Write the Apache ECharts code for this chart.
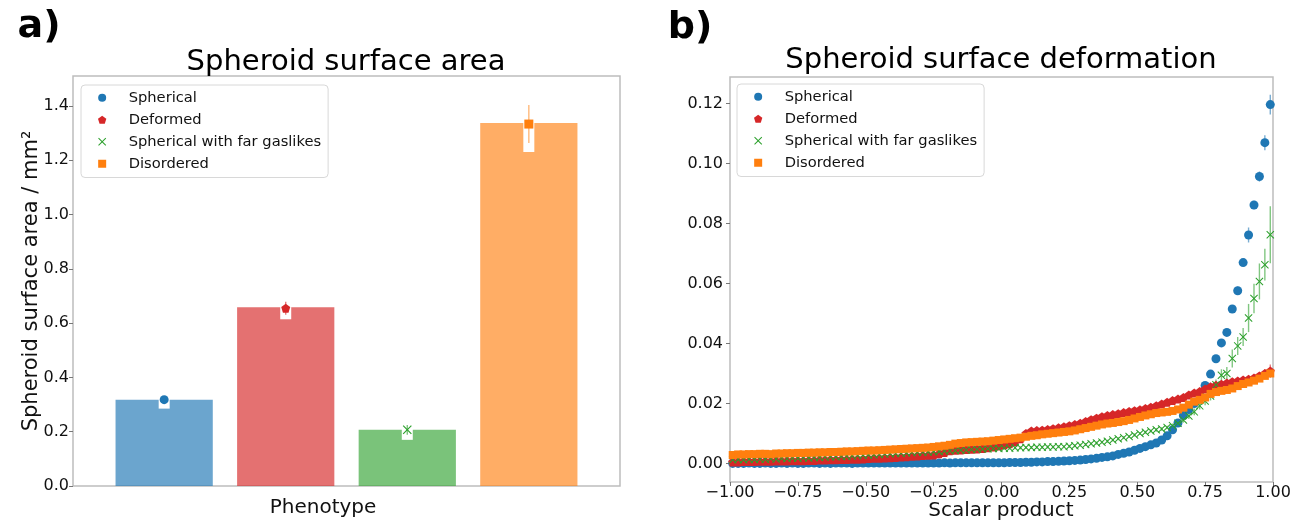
<!DOCTYPE html>
<html>
<head>
<meta charset="utf-8">
<script src="https://cdn.jsdelivr.net/npm/echarts@6/dist/echarts.min.js"></script>
<style>html,body{margin:0;padding:0;background:#fff}#c{width:1302px;height:521px}</style>
</head>
<body>
<div id="c"></div>
<script>
// ---------------- DATA ----------------
const categories = ['Spherical', 'Deformed', 'Spherical with far gaslikes', 'Disordered'];
// panel a
const barValues = [0.318, 0.658, 0.207, 1.337];
const barCI = [0.033, 0.044, 0.037, 0.107];
const markerValues = [0.318, 0.655, 0.207, 1.333];
const markerErr = [0.004, 0.024, 0.018, 0.070];
const leftYTicks = [0, 0.2, 0.4, 0.6, 0.8, 1.0, 1.2, 1.4];
// panel b
const xCenters = [
 -0.99,-0.97,-0.95,-0.93,-0.91,-0.89,-0.87,-0.85,-0.83,-0.81,-0.79,-0.77,-0.75,-0.73,-0.71,-0.69,-0.67,-0.65,-0.63,-0.61,-0.59,-0.57,-0.55,-0.53,-0.51,
 -0.49,-0.47,-0.45,-0.43,-0.41,-0.39,-0.37,-0.35,-0.33,-0.31,-0.29,-0.27,-0.25,-0.23,-0.21,-0.19,-0.17,-0.15,-0.13,-0.11,-0.09,-0.07,-0.05,-0.03,-0.01,
 0.01,0.03,0.05,0.07,0.09,0.11,0.13,0.15,0.17,0.19,0.21,0.23,0.25,0.27,0.29,0.31,0.33,0.35,0.37,0.39,0.41,0.43,0.45,0.47,0.49,
 0.51,0.53,0.55,0.57,0.59,0.61,0.63,0.65,0.67,0.69,0.71,0.73,0.75,0.77,0.79,0.81,0.83,0.85,0.87,0.89,0.91,0.93,0.95,0.97,0.99];
const sphericalVals = [
 0.0000,0.0000,0.0000,0.0001,0.0000,0.0000,0.0001,0.0000,0.0000,0.0001,0.0000,0.0001,0.0000,0.0000,0.0001,0.0001,0.0000,0.0001,0.0000,0.0001,0.0001,0.0001,0.0000,0.0001,0.0001,
 0.0001,0.0001,0.0001,0.0001,0.0001,0.0001,0.0001,0.0001,0.0001,0.0001,0.0001,0.0001,0.0001,0.0001,0.0002,0.0001,0.0002,0.0002,0.0002,0.0002,0.0002,0.0002,0.0002,0.0002,0.0002,
 0.0002,0.0003,0.0003,0.0003,0.0004,0.0004,0.0005,0.0005,0.0006,0.0006,0.0007,0.0008,0.0009,0.0010,0.0011,0.0013,0.0015,0.0017,0.0020,0.0022,0.0025,0.0030,0.0034,0.0038,0.0044,
 0.0050,0.0056,0.0062,0.0068,0.0078,0.0092,0.0112,0.0135,0.0160,0.0180,0.0200,0.0232,0.0260,0.0298,0.0349,0.0402,0.0437,0.0515,0.0576,0.0670,0.0762,0.0862,0.0957,0.1070,0.1197];
const sphericalErr = [
 0.0002,0.0002,0.0002,0.0002,0.0002,0.0002,0.0002,0.0002,0.0002,0.0002,0.0002,0.0002,0.0002,0.0002,0.0002,0.0002,0.0002,0.0002,0.0002,0.0002,0.0002,0.0002,0.0002,0.0002,0.0002,
 0.0002,0.0002,0.0002,0.0002,0.0002,0.0002,0.0002,0.0002,0.0002,0.0002,0.0002,0.0002,0.0002,0.0002,0.0002,0.0002,0.0002,0.0002,0.0002,0.0002,0.0002,0.0002,0.0002,0.0002,0.0002,
 0.0002,0.0002,0.0002,0.0002,0.0002,0.0002,0.0002,0.0002,0.0002,0.0002,0.0002,0.0002,0.0002,0.0002,0.0002,0.0002,0.0002,0.0002,0.0002,0.0002,0.0002,0.0002,0.0002,0.0002,0.0002,
 0.0002,0.0002,0.0002,0.0002,0.0002,0.0003,0.0004,0.0004,0.0005,0.0005,0.0006,0.0007,0.0008,0.0008,0.0009,0.0010,0.0010,0.0010,0.0014,0.0010,0.0025,0.0014,0.0017,0.0025,0.0033];
const deformedVals = [
 0.0005,0.0005,0.0006,0.0006,0.0006,0.0007,0.0007,0.0007,0.0008,0.0008,0.0008,0.0009,0.0009,0.0009,0.0010,0.0010,0.0011,0.0011,0.0012,0.0012,0.0013,0.0013,0.0014,0.0014,0.0015,
 0.0016,0.0017,0.0017,0.0018,0.0019,0.0020,0.0021,0.0022,0.0024,0.0025,0.0026,0.0027,0.0028,0.0032,0.0036,0.0042,0.0044,0.0045,0.0046,0.0047,0.0048,0.0050,0.0052,0.0055,0.0058,
 0.0062,0.0066,0.0072,0.0082,0.0100,0.0108,0.0110,0.0111,0.0113,0.0116,0.0119,0.0122,0.0126,0.0130,0.0134,0.0140,0.0146,0.0151,0.0156,0.0160,0.0163,0.0166,0.0170,0.0173,0.0176,
 0.0179,0.0183,0.0187,0.0192,0.0198,0.0204,0.0210,0.0215,0.0220,0.0228,0.0235,0.0240,0.0248,0.0256,0.0261,0.0264,0.0268,0.0272,0.0275,0.0278,0.0281,0.0285,0.0292,0.0300,0.0308];
const deformedErr = [
 0.0003,0.0003,0.0003,0.0003,0.0003,0.0003,0.0003,0.0003,0.0003,0.0003,0.0003,0.0003,0.0003,0.0003,0.0003,0.0003,0.0003,0.0003,0.0003,0.0003,0.0003,0.0003,0.0003,0.0003,0.0003,
 0.0003,0.0003,0.0003,0.0003,0.0003,0.0003,0.0003,0.0003,0.0003,0.0003,0.0003,0.0003,0.0003,0.0004,0.0004,0.0004,0.0004,0.0004,0.0004,0.0004,0.0004,0.0004,0.0004,0.0004,0.0004,
 0.0004,0.0004,0.0004,0.0004,0.0005,0.0005,0.0005,0.0005,0.0005,0.0005,0.0005,0.0005,0.0005,0.0005,0.0005,0.0005,0.0005,0.0005,0.0005,0.0005,0.0005,0.0005,0.0005,0.0005,0.0005,
 0.0005,0.0005,0.0005,0.0005,0.0005,0.0005,0.0006,0.0006,0.0006,0.0006,0.0006,0.0007,0.0007,0.0007,0.0007,0.0008,0.0008,0.0008,0.0009,0.0009,0.0010,0.0010,0.0012,0.0014,0.0022];
const gasVals = [
 0.0012,0.0013,0.0012,0.0014,0.0013,0.0015,0.0014,0.0016,0.0015,0.0017,0.0016,0.0018,0.0017,0.0019,0.0018,0.0020,0.0020,0.0021,0.0022,0.0022,0.0023,0.0024,0.0025,0.0026,0.0027,
 0.0028,0.0029,0.0030,0.0031,0.0032,0.0033,0.0034,0.0035,0.0036,0.0037,0.0037,0.0038,0.0039,0.0040,0.0041,0.0042,0.0043,0.0044,0.0045,0.0046,0.0047,0.0048,0.0049,0.0050,0.0050,
 0.0051,0.0051,0.0052,0.0052,0.0053,0.0053,0.0054,0.0054,0.0055,0.0055,0.0056,0.0056,0.0057,0.0059,0.0061,0.0063,0.0066,0.0068,0.0071,0.0074,0.0078,0.0082,0.0086,0.0090,0.0095,
 0.0100,0.0104,0.0108,0.0112,0.0115,0.0120,0.0126,0.0134,0.0145,0.0158,0.0172,0.0192,0.0208,0.0225,0.0262,0.0294,0.0300,0.0350,0.0392,0.0422,0.0485,0.0550,0.0607,0.0663,0.0763];
const gasErr = [
 0.0004,0.0004,0.0004,0.0004,0.0004,0.0004,0.0004,0.0004,0.0004,0.0004,0.0004,0.0004,0.0004,0.0004,0.0004,0.0004,0.0004,0.0004,0.0004,0.0004,0.0004,0.0004,0.0004,0.0004,0.0004,
 0.0004,0.0004,0.0004,0.0004,0.0004,0.0004,0.0004,0.0004,0.0004,0.0004,0.0004,0.0004,0.0004,0.0004,0.0004,0.0004,0.0004,0.0004,0.0004,0.0004,0.0004,0.0004,0.0004,0.0004,0.0004,
 0.0005,0.0005,0.0005,0.0005,0.0005,0.0005,0.0005,0.0005,0.0005,0.0005,0.0005,0.0005,0.0005,0.0005,0.0005,0.0005,0.0005,0.0005,0.0005,0.0005,0.0005,0.0005,0.0005,0.0005,0.0005,
 0.0005,0.0005,0.0005,0.0006,0.0006,0.0006,0.0007,0.0008,0.0009,0.0010,0.0011,0.0012,0.0014,0.0015,0.0018,0.0020,0.0022,0.0030,0.0030,0.0030,0.0047,0.0049,0.0060,0.0053,0.0095];
const disorderedVals = [
 0.0028,0.0030,0.0030,0.0031,0.0031,0.0032,0.0032,0.0031,0.0033,0.0033,0.0034,0.0034,0.0035,0.0035,0.0036,0.0036,0.0037,0.0037,0.0038,0.0038,0.0039,0.0040,0.0040,0.0041,0.0042,
 0.0043,0.0043,0.0044,0.0045,0.0046,0.0047,0.0048,0.0049,0.0050,0.0051,0.0052,0.0053,0.0055,0.0057,0.0059,0.0062,0.0066,0.0068,0.0070,0.0071,0.0072,0.0073,0.0074,0.0076,0.0078,
 0.0080,0.0082,0.0084,0.0086,0.0089,0.0092,0.0094,0.0097,0.0099,0.0101,0.0103,0.0105,0.0107,0.0110,0.0114,0.0118,0.0122,0.0126,0.0130,0.0133,0.0135,0.0138,0.0141,0.0145,0.0150,
 0.0155,0.0160,0.0164,0.0168,0.0170,0.0172,0.0175,0.0180,0.0186,0.0196,0.0206,0.0212,0.0220,0.0232,0.0238,0.0242,0.0245,0.0250,0.0258,0.0265,0.0270,0.0276,0.0283,0.0292,0.0300];
const disorderedErr = [
 0.0004,0.0004,0.0004,0.0004,0.0004,0.0004,0.0004,0.0004,0.0004,0.0004,0.0004,0.0004,0.0004,0.0004,0.0004,0.0004,0.0004,0.0004,0.0004,0.0004,0.0004,0.0004,0.0004,0.0004,0.0004,
 0.0004,0.0004,0.0004,0.0004,0.0004,0.0004,0.0004,0.0004,0.0004,0.0004,0.0004,0.0004,0.0004,0.0004,0.0004,0.0004,0.0004,0.0004,0.0004,0.0004,0.0004,0.0004,0.0004,0.0004,0.0004,
 0.0005,0.0005,0.0005,0.0005,0.0005,0.0005,0.0005,0.0005,0.0005,0.0005,0.0005,0.0005,0.0005,0.0005,0.0005,0.0005,0.0005,0.0005,0.0005,0.0005,0.0005,0.0005,0.0005,0.0005,0.0005,
 0.0006,0.0006,0.0006,0.0006,0.0006,0.0006,0.0006,0.0006,0.0007,0.0007,0.0007,0.0007,0.0008,0.0008,0.0008,0.0009,0.0009,0.0009,0.0010,0.0010,0.0010,0.0011,0.0011,0.0012,0.0012];
const rightYTicks = [0, 0.02, 0.04, 0.06, 0.08, 0.10, 0.12];

// ---------------- STYLE ----------------
const FONT = '"DejaVu Sans", sans-serif';
const colors = ['#1f77b4', '#d62728', '#2ca02c', '#ff7f0e'];
const barColors = ['rgba(31,119,180,0.66)', 'rgba(214,39,40,0.66)', 'rgba(44,160,44,0.63)', 'rgba(255,127,14,0.64)'];
const errColors = ['rgba(31,119,180,0.6)', 'rgba(214,39,40,0.6)', 'rgba(44,160,44,0.6)', 'rgba(255,127,14,0.55)'];
const PENT = 'path://M5,0L10,3.7L8.1,9.6L1.9,9.6L0,3.7Z';
const XMARK = 'path://M0,0.9L0.9,0L5,4.1L9.1,0L10,0.9L5.9,5L10,9.1L9.1,10L5,5.9L0.9,10L0,9.1L4.1,5Z';
const SQUARE = 'path://M0,0L10,0L10,10L0,10Z';
const symbols = ['circle', PENT, XMARK, SQUARE];
const leftSizes = [9, 9, 9, 9];
const rightSizes = [9, 9, 8, 8];

const chart = echarts.init(document.getElementById('c'), null, {renderer: 'canvas'});

function errRender(params, api) {
  const x = api.value(0), v = api.value(1), e = api.value(2);
  const a = api.coord([x, v - e]), b = api.coord([x, v + e]);
  return {type: 'line', shape: {x1: a[0], y1: a[1], x2: b[0], y2: b[1]},
    style: {stroke: api.visual('color'), lineWidth: 1.4}};
}

const series = [];
// panel a: bars
series.push({
  type: 'custom', name: 'bars', xAxisIndex: 0, yAxisIndex: 0, silent: true,
  data: barValues.map((v, i) => [i, v]),
  renderItem: function (params, api) {
    const i = api.value(0), v = api.value(1);
    const p0 = api.coord([i - 0.4, v]), p1 = api.coord([i + 0.4, 0]);
    return {type: 'rect', shape: {x: p0[0], y: p0[1], width: p1[0] - p0[0], height: p1[1] - p0[1]},
      style: {fill: barColors[i]}};
  }
});
// panel a: white CI lines
series.push({
  type: 'custom', name: 'ci', xAxisIndex: 0, yAxisIndex: 0, silent: true,
  data: barValues.map((v, i) => [i, v, barCI[i]]),
  renderItem: function (params, api) {
    const i = api.value(0), v = api.value(1), e = api.value(2);
    const a = api.coord([i, v - e]), b = api.coord([i, v + e]);
    return {type: 'rect', shape: {x: a[0] - 5.5, y: b[1], width: 11, height: a[1] - b[1]}, style: {fill: '#ffffff'}};
  }
});
categories.forEach((name, i) => {
  series.push({
    type: 'custom', name: name + ' err a', xAxisIndex: 0, yAxisIndex: 0, silent: true,
    itemStyle: {color: errColors[i]},
    data: [[i, markerValues[i], markerErr[i]]], renderItem: errRender
  });
  series.push({
    type: 'scatter', name: name, xAxisIndex: 0, yAxisIndex: 0, silent: true,
    symbol: symbols[i], symbolSize: leftSizes[i], itemStyle: {color: colors[i], opacity: 1},
    data: [[i, markerValues[i]]]
  });
});
// panel b
const bVals = [sphericalVals, deformedVals, gasVals, disorderedVals];
const bErrs = [sphericalErr, deformedErr, gasErr, disorderedErr];
categories.forEach((name, i) => {
  series.push({
    type: 'custom', name: name + ' err b', xAxisIndex: 1, yAxisIndex: 1, silent: true,
    itemStyle: {color: errColors[i]},
    data: xCenters.map((x, k) => [x, bVals[i][k], bErrs[i][k]]), renderItem: errRender
  });
  series.push({
    type: 'scatter', name: name, xAxisIndex: 1, yAxisIndex: 1, silent: true,
    symbol: symbols[i], symbolSize: rightSizes[i], itemStyle: {color: colors[i], opacity: 1},
    data: xCenters.map((x, k) => [x, bVals[i][k]])
  });
});

const axisLabelStyle = {color: '#111', fontSize: 16, fontFamily: FONT};
const tickStyle = {show: true, length: 4, lineStyle: {color: '#777', width: 1}};
const legendBase = {
  orient: 'vertical', selectedMode: false, itemWidth: 43, itemHeight: 8, itemGap: 4.5,
  padding: [4, 7, 5, 17], borderColor: '#d8d8d8', borderWidth: 1, borderRadius: 4,
  backgroundColor: 'rgba(255,255,255,0.85)',
  textStyle: {color: '#111', fontSize: 14.7, fontFamily: FONT, lineHeight: 17.5},
  data: categories.map((n, i) => ({name: n, icon: symbols[i]}))
};

const option = {
  animation: false,
  backgroundColor: '#fff',
  grid: [
    {left: 73, width: 547, top: 76, height: 410, show: true, borderColor: '#bdbdbd', borderWidth: 1.5,
      backgroundColor: 'transparent', outerBoundsMode: 'none', containLabel: false},
    {left: 730, width: 543, top: 77, height: 405, show: true, borderColor: '#bdbdbd', borderWidth: 1.5,
      backgroundColor: 'transparent', outerBoundsMode: 'none', containLabel: false}
  ],
  xAxis: [
    {type: 'value', gridIndex: 0, min: -0.75, max: 3.75, axisLine: {show: false, onZero: false}, axisTick: {show: false},
      axisLabel: {show: false}, splitLine: {show: false}},
    {type: 'value', gridIndex: 1, min: -1, max: 1, interval: 0.25, axisLine: {show: false, onZero: false},
      axisTick: tickStyle,
      axisLabel: Object.assign({margin: 3, formatter: v => (v < 0 ? '\u2212' : '') + Math.abs(v).toFixed(2)}, axisLabelStyle),
      splitLine: {show: false}}
  ],
  yAxis: [
    {type: 'value', gridIndex: 0, min: 0, max: 1.51, axisLine: {show: false, onZero: false},
      axisTick: Object.assign({customValues: leftYTicks}, tickStyle),
      axisLabel: Object.assign({margin: 4, customValues: leftYTicks, formatter: v => v.toFixed(1)}, axisLabelStyle),
      splitLine: {show: false},
      name: 'Spheroid surface area / mm\u00B2', nameLocation: 'middle', nameGap: 31, nameRotate: 90, nameMoveOverlap: false,
      nameTextStyle: {color: '#111', fontSize: 21, fontFamily: FONT}},
    {type: 'value', gridIndex: 1, min: -0.0062, max: 0.1289, axisLine: {show: false, onZero: false},
      axisTick: Object.assign({customValues: rightYTicks}, tickStyle),
      axisLabel: Object.assign({margin: 7, customValues: rightYTicks, formatter: v => v.toFixed(2)}, axisLabelStyle),
      splitLine: {show: false}}
  ],
  legend: [
    Object.assign({left: 81, top: 85}, legendBase),
    Object.assign({left: 737, top: 84}, legendBase)
  ],
  graphic: [
    {type: 'text', x: 39, y: 27, style: {text: 'a)', font: 'bold 38px ' + FONT, fill: '#000', align: 'center', verticalAlign: 'middle'}},
    {type: 'text', x: 690, y: 28, style: {text: 'b)', font: 'bold 38px ' + FONT, fill: '#000', align: 'center', verticalAlign: 'middle'}},
    {type: 'text', x: 346, y: 62, style: {text: 'Spheroid surface area', font: '29px ' + FONT, fill: '#000', align: 'center', verticalAlign: 'middle'}},
    {type: 'text', x: 1001, y: 60, style: {text: 'Spheroid surface deformation', font: '29px ' + FONT, fill: '#000', align: 'center', verticalAlign: 'middle'}},
    {type: 'text', x: 323, y: 508, style: {text: 'Phenotype', font: '20px ' + FONT, fill: '#111', align: 'center', verticalAlign: 'middle'}},
    {type: 'text', x: 1001, y: 511, style: {text: 'Scalar product', font: '20px ' + FONT, fill: '#111', align: 'center', verticalAlign: 'middle'}}
  ],
  series: series
};
chart.setOption(option);
</script>
</body>
</html>
